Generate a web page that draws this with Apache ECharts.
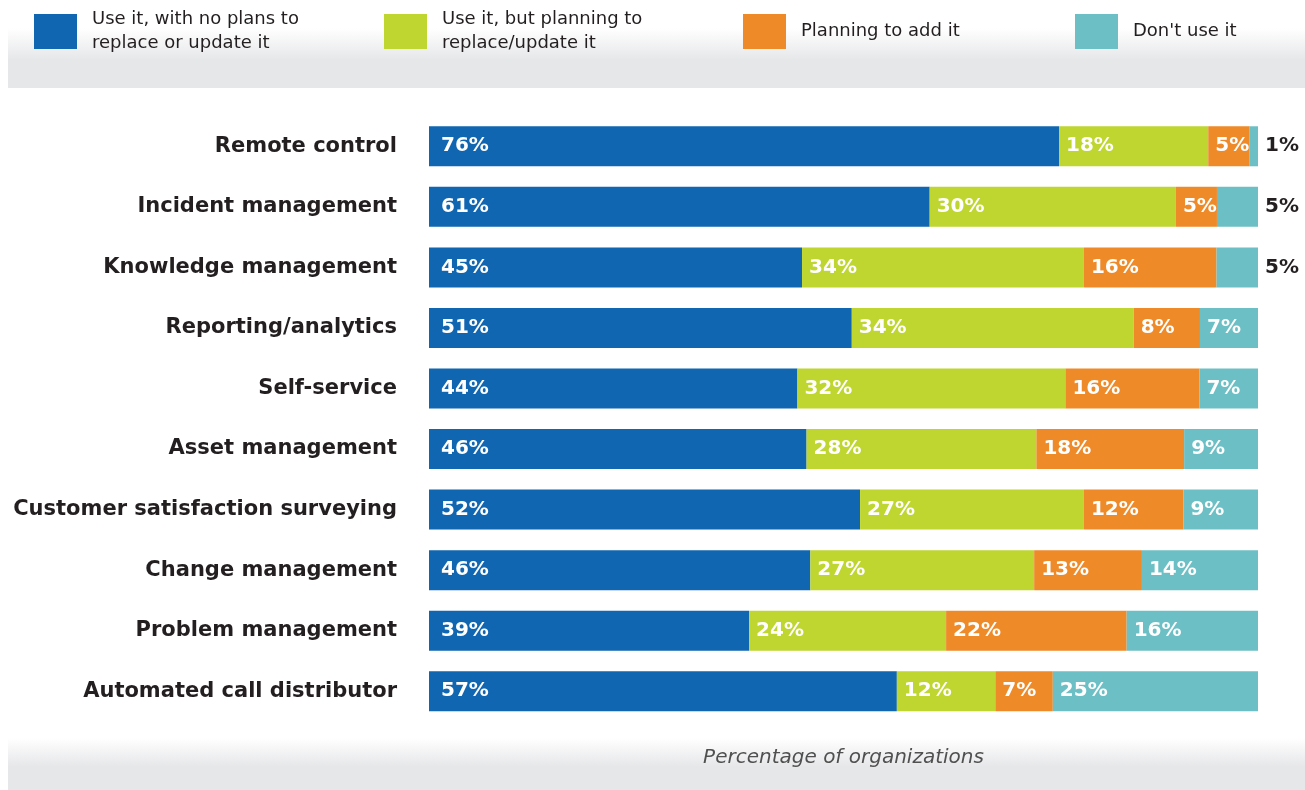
<!DOCTYPE html>
<html>
<head>
<meta charset="utf-8">
<script src="https://cdn.jsdelivr.net/npm/echarts@6/dist/echarts.min.js"></script>
<style>html,body{margin:0;padding:0;background:#fff;}#c{width:1305px;height:790px;}</style>
</head>
<body>
<div id="c"></div>
<script>
var categories = ['Remote control','Incident management','Knowledge management','Reporting/analytics','Self-service','Asset management','Customer satisfaction surveying','Change management','Problem management','Automated call distributor'];
var seriesNames = ['Use it, with no plans to\nreplace or update it','Use it, but planning to\nreplace/update it','Planning to add it','Don\'t use it'];
var useNoPlans = [76,61,45,51,44,46,52,46,39,57];
var usePlanning = [18,30,34,34,32,28,27,27,24,12];
var planningAdd = [5,5,16,8,16,18,12,13,22,7];
var dontUse = [1,5,5,7,7,9,9,14,16,25];
var xAxisTitle = 'Percentage of organizations';

var raw = [useNoPlans, usePlanning, planningAdd, dontUse];
var colors = ['#1166b2','#bed62f','#ef8a28','#6cbfc4'];
var totals = categories.map(function(_, i){ return raw.reduce(function(s,a){return s+a[i];},0); });
var BOLD = '"DejaVu Sans", "Open Sans", sans-serif';

var series = raw.map(function(arr, si){
  return {
    name: seriesNames[si],
    type: 'bar',
    stack: 'total',
    barWidth: 40,
    itemStyle: {color: colors[si]},
    emphasis: {disabled: true},
    label: {
      show: true,
      position: 'insideLeft',
      distance: si === 0 ? 12 : 7,
      color: '#ffffff',
      fontFamily: BOLD,
      fontWeight: 'bold',
      fontSize: 20,
      formatter: function(p){ return raw[si][p.dataIndex] + '%'; }
    },
    data: arr.map(function(v, i){
      var item = {value: v / totals[i] * 100};
      if (si === 3 && v <= 5) {
        item.label = {position: 'right', distance: 7, color: '#231f20'};
      }
      return item;
    })
  };
});

var legendLefts = [34, 384, 743, 1075];
var legends = seriesNames.map(function(n, i){
  var twoLine = n.indexOf('\n') >= 0;
  return {
    data: [n],
    left: legendLefts[i],
    top: twoLine ? 7.5 : 14,
    padding: 0,
    icon: 'rect',
    itemWidth: 43,
    itemHeight: 35,
    selectedMode: false,
    textStyle: {
      fontFamily: '"DejaVu Sans", sans-serif',
      fontSize: 18,
      color: '#231f20',
      lineHeight: 24,
      padding: [0,0,0,10]
    }
  };
});

var chart = echarts.init(document.getElementById('c'), null, {renderer: 'canvas'});
chart.setOption({
  animation: false,
  graphic: [
    {type: 'rect', silent: true, z: -10, shape: {x: 8, y: 0, width: 1297, height: 88},
      style: {fill: new echarts.graphic.LinearGradient(0,0,0,1,[
        {offset: 0, color: '#ffffff'}, {offset: 0.32, color: '#ffffff'},
        {offset: 0.68, color: '#e6e7e9'}, {offset: 1, color: '#e6e7e9'}])}},
    {type: 'rect', silent: true, z: -10, shape: {x: 8, y: 738, width: 1297, height: 52},
      style: {fill: new echarts.graphic.LinearGradient(0,0,0,1,[
        {offset: 0, color: '#ffffff'}, {offset: 0.55, color: '#e6e7e9'},
        {offset: 1, color: '#e6e7e9'}])}}
  ],
  legend: legends,
  grid: {left: 429, right: 47, top: 116, bottom: 68.5, containLabel: false},
  xAxis: {
    type: 'value', min: 0, max: 100,
    axisLine: {show: false}, axisTick: {show: false}, axisLabel: {show: false}, splitLine: {show: false},
    name: xAxisTitle, nameLocation: 'middle', nameGap: 26,
    nameTextStyle: {fontFamily: '"DejaVu Sans ExtraLight", "DejaVu Sans", sans-serif', fontStyle: 'italic', fontWeight: 200, fontSize: 20, color: '#505050'}
  },
  yAxis: {
    type: 'category', inverse: true, data: categories,
    axisLine: {show: false}, axisTick: {show: false},
    axisLabel: {margin: 32, fontFamily: BOLD, fontWeight: 'bold', fontSize: 21, color: '#231f20'}
  },
  series: series
});
</script>
</body>
</html>
